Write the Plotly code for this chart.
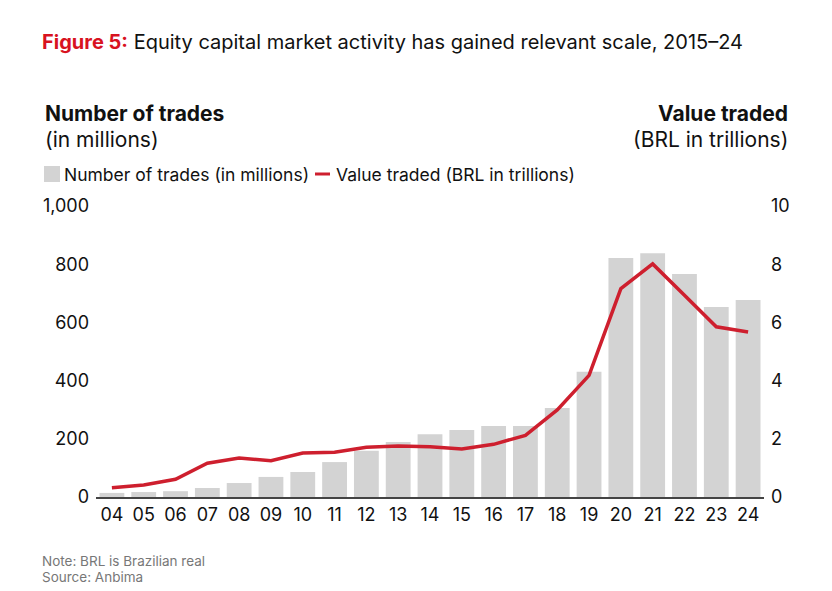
import plotly.graph_objects as go

years = ["04", "05", "06", "07", "08", "09", "10", "11", "12", "13", "14",
         "15", "16", "17", "18", "19", "20", "21", "22", "23", "24"]
# number of trades, in millions
trades = [14, 17, 20, 31, 48, 69, 86, 120, 159, 189, 216,
          230, 244, 244, 306, 430, 821, 838, 766, 653, 677]
# value traded, BRL in trillions
value_traded = [0.32, 0.41, 0.61, 1.16, 1.34, 1.25, 1.51, 1.54, 1.71, 1.75, 1.73,
                1.65, 1.81, 2.12, 2.99, 4.18, 7.16, 8.01, 6.93, 5.85, 5.67]

font_family = "Inter, Roboto, sans-serif"
red = "#CE1F2E"
bar_grey = "#D3D3D3"


# page pixel -> paper coords (page has an 8px body margin)
def px(x):
    return (x - 96) / 668


def py(y):
    return (497 - y) / 291


fig = go.Figure()
fig.add_trace(go.Bar(x=years, y=trades, name="Number of trades (in millions)",
                     marker=dict(color=bar_grey, line=dict(width=0))))
fig.add_trace(go.Scatter(x=years, y=value_traded, name="Value traded (BRL in trillions)",
                         yaxis="y2", mode="lines",
                         line=dict(color=red, width=3.5)))

fig.update_layout(
    width=824, height=583,
    margin=dict(l=88, r=68, t=198, b=94),
    paper_bgcolor="white", plot_bgcolor="white",
    font=dict(family=font_family, color="#111111", size=18),
    bargap=0.22,
    showlegend=False,
    xaxis=dict(type="category", range=[-0.5, 20.5], showgrid=False, ticks="",
               showline=True, linecolor="#444444", linewidth=2,
               tickfont=dict(size=18)),
    yaxis=dict(range=[0, 1000], tickvals=[0, 200, 400, 600, 800, 1000],
               ticktext=["0", "200", "400", "600", "800", "1,000"],
               showgrid=False, zeroline=False, showline=False, ticks="",
               ticklabelstandoff=6, tickfont=dict(size=18)),
    yaxis2=dict(range=[0, 10], tickvals=[0, 2, 4, 6, 8, 10], overlaying="y", side="right",
                showgrid=False, zeroline=False, showline=False, ticks="",
                ticklabelstandoff=6, tickfont=dict(size=18)),
)

# legend drawn by hand to get the tight spacing of the original
fig.add_shape(type="rect", xref="paper", yref="paper",
              x0=px(44), x1=px(60), y0=py(182), y1=py(166),
              fillcolor=bar_grey, line=dict(width=0))
fig.add_shape(type="line", xref="paper", yref="paper",
              x0=px(315), x1=px(330), y0=py(174), y1=py(174),
              line=dict(color=red, width=3))

annotations = [
    dict(text="<b><span style='color:#D8131F'>Figure 5:</span></b> Equity capital market activity has gained relevant scale, 2015–24",
         x=40, y=42, font=dict(size=20), xanchor="left"),
    dict(text="<b>Number of trades</b>", x=43, y=113, font=dict(size=21), xanchor="left"),
    dict(text="(in millions)", x=43, y=139, font=dict(size=21), xanchor="left"),
    dict(text="<b>Value traded</b>", x=790, y=113, font=dict(size=21), xanchor="right"),
    dict(text="(BRL in trillions)", x=790, y=139, font=dict(size=21), xanchor="right"),
    dict(text="Number of trades (in millions)", x=62, y=174, font=dict(size=17.5), xanchor="left"),
    dict(text="Value traded (BRL in trillions)", x=334, y=174, font=dict(size=17.5), xanchor="left"),
    dict(text="Note: BRL is Brazilian real", x=40, y=561, font=dict(size=13.5, color="#777777"), xanchor="left"),
    dict(text="Source: Anbima", x=40, y=577, font=dict(size=13.5, color="#777777"), xanchor="left"),
]
for a in annotations:
    fig.add_annotation(text=a["text"], xref="paper", yref="paper",
                       x=px(a["x"]), y=py(a["y"]),
                       xanchor=a["xanchor"], yanchor="middle",
                       showarrow=False, font=a["font"])

fig.write_html("out.html")
